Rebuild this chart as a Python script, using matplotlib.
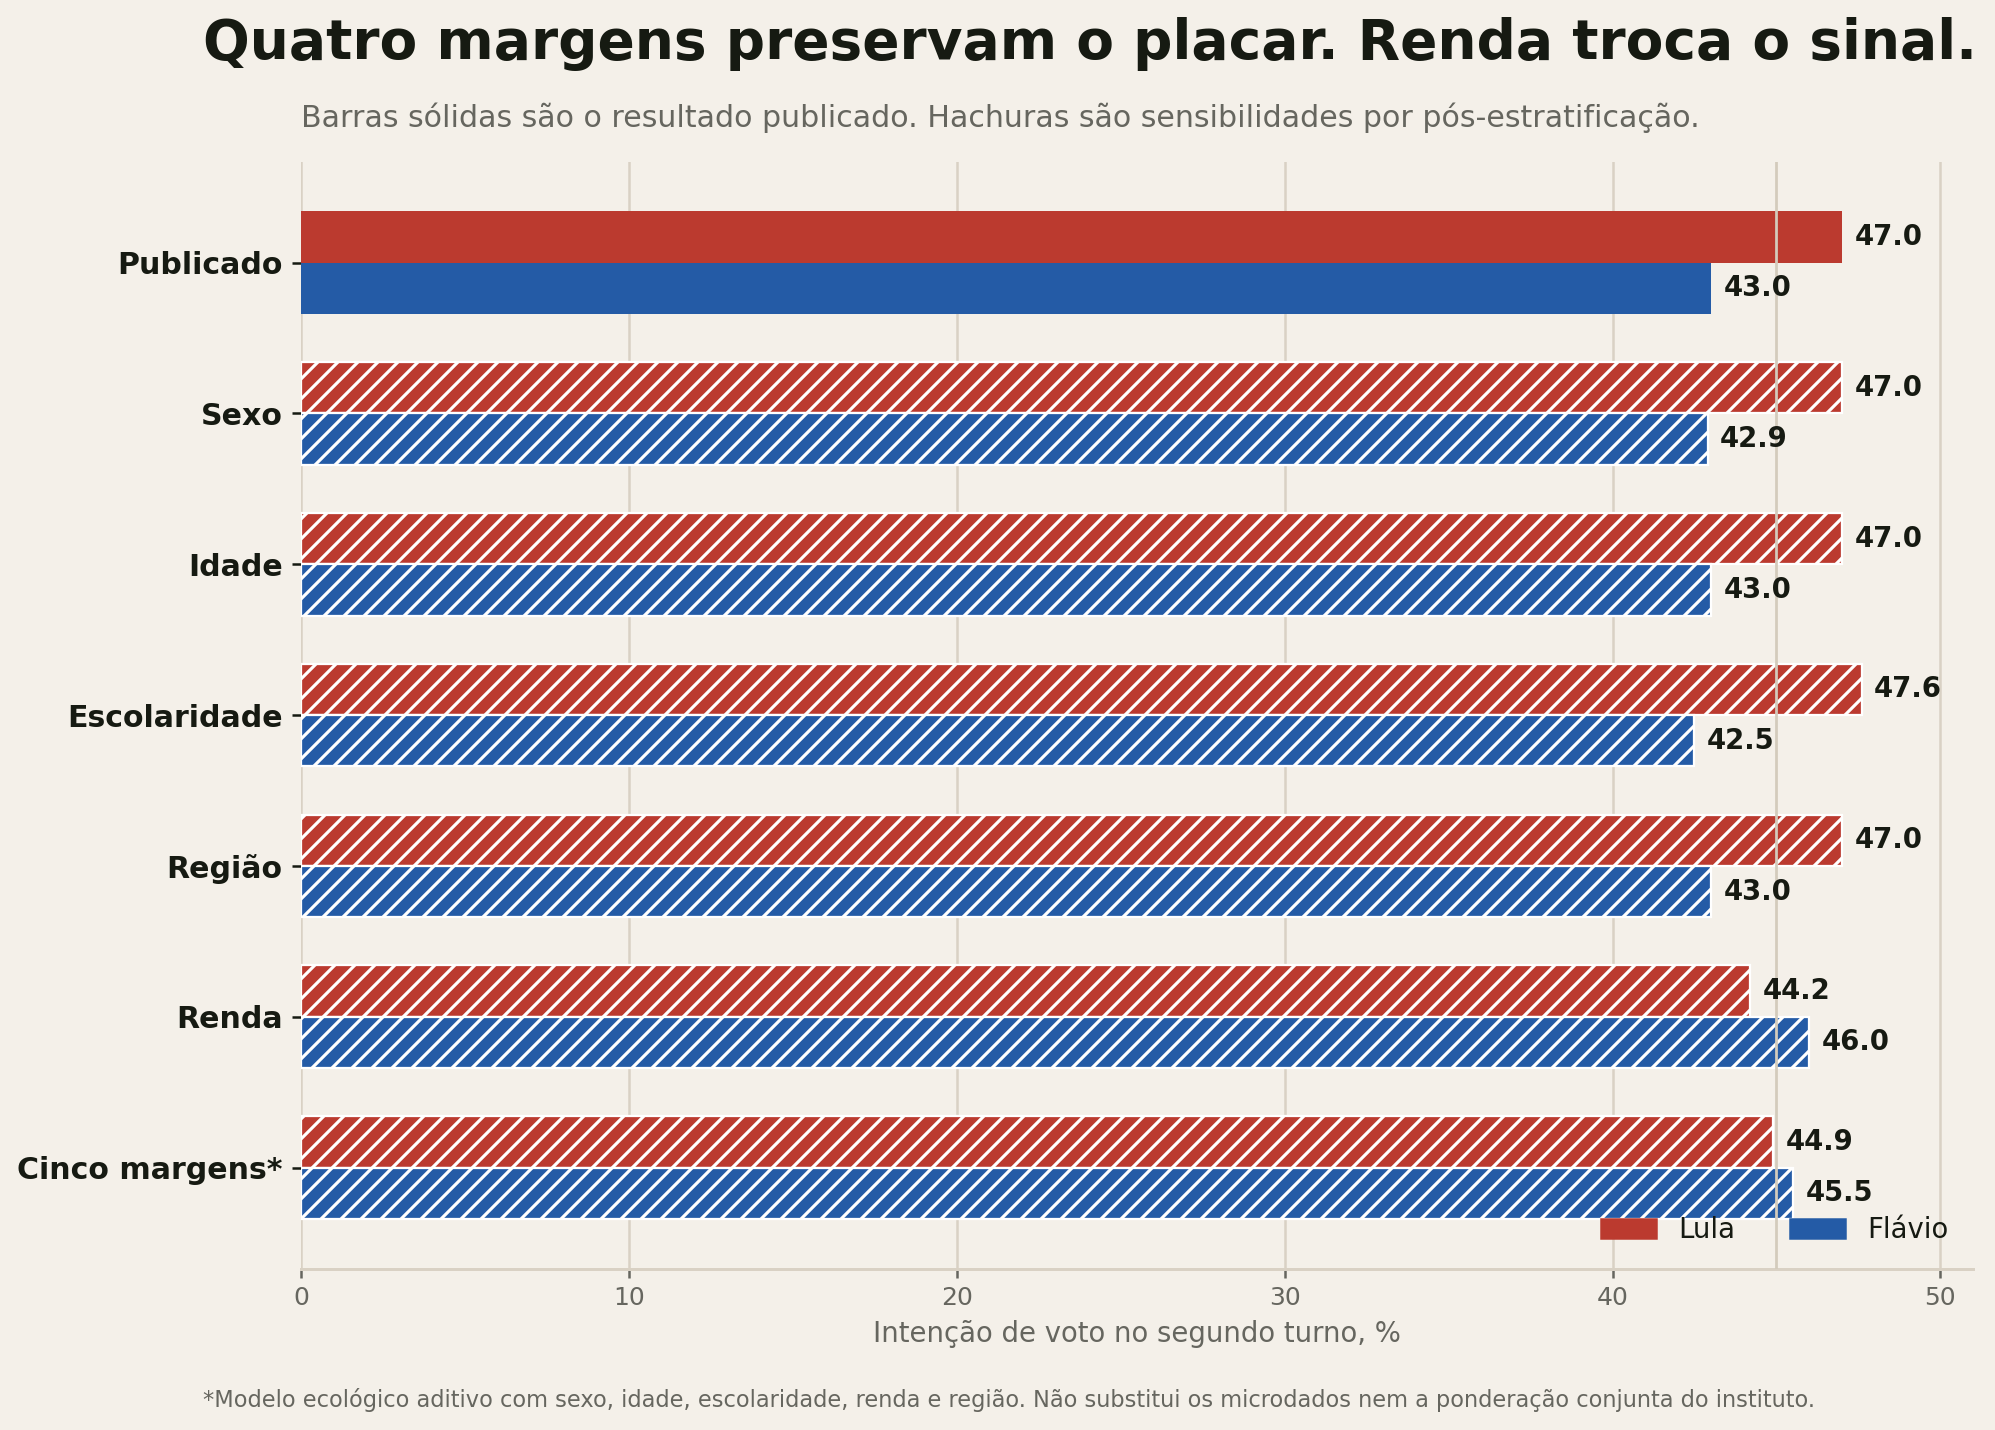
import matplotlib
matplotlib.use("Agg")
import matplotlib.pyplot as plt
import numpy as np
from matplotlib.patches import Patch

categories = ["Publicado", "Sexo", "Idade", "Escolaridade", "Região", "Renda", "Cinco margens*"]
lula = [47.0, 47.0, 47.0, 47.6, 47.0, 44.2, 44.9]
flavio = [43.0, 42.9, 43.0, 42.5, 43.0, 46.0, 45.5]
hatched = [False, True, True, True, True, True, True]
xticks = [0, 10, 20, 30, 40, 50]
ref_line = 45

BG = "#f4f0e9"
RED = "#bb3a2f"
BLUE = "#245ba6"
GRID = "#d9d1c4"
DARK = "#161a12"
GRAY = "#66665f"

plt.rcParams["font.family"] = ["DejaVu Sans"]
plt.rcParams["hatch.linewidth"] = 1.25

DPI = 180
fig = plt.figure(figsize=(1995 / DPI, 1430 / DPI), dpi=DPI, facecolor=BG)
ax = fig.add_axes([0.1511, 0.1129, 0.989 - 0.1511, 0.887 - 0.1129])
ax.set_facecolor(BG)

y = np.arange(len(categories))
h = 0.34
for i, cat in enumerate(categories):
    kw_r = dict(color=RED)
    kw_b = dict(color=BLUE)
    if hatched[i]:
        kw_r.update(hatch="///", edgecolor="white", linewidth=0.9)
        kw_b.update(hatch="///", edgecolor="white", linewidth=0.9)
    else:
        kw_r.update(linewidth=0)
        kw_b.update(linewidth=0)
    br = ax.barh(y[i] - h / 2, lula[i], height=h, zorder=3, **kw_r)
    bb = ax.barh(y[i] + h / 2, flavio[i], height=h, zorder=3, **kw_b)
    for t in ax.bar_label(br, labels=[f"{lula[i]:.1f}"], padding=5, fontsize=11,
                          fontweight="bold", color=DARK):
        t.set_zorder(6)
    for t in ax.bar_label(bb, labels=[f"{flavio[i]:.1f}"], padding=5, fontsize=11,
                          fontweight="bold", color=DARK):
        t.set_zorder(6)

ax.axvline(ref_line, color="#d3cbbc", linewidth=1.1, zorder=4)

ax.set_xlim(0, 51)
ax.set_ylim(len(categories) - 1 + 0.67, -0.67)
ax.set_yticks(y)
ax.set_yticklabels(categories, fontsize=12, fontweight="bold", color=DARK)
ax.set_xticks(xticks)
ax.set_xticklabels([str(t) for t in xticks], fontsize=10, color=GRAY)
ax.tick_params(axis="y", length=3.5, width=1.0, color=DARK, pad=4)
ax.tick_params(axis="x", length=3.5, width=1.0, color=GRAY)

ax.grid(axis="x", color=GRID, linewidth=1.0, zorder=0)
ax.set_axisbelow(True)
for s in ["top", "right", "left"]:
    ax.spines[s].set_visible(False)
ax.spines["bottom"].set_color(GRID)
ax.spines["bottom"].set_linewidth(1.2)

ax.set_xlabel("Intenção de voto no segundo turno, %", fontsize=11, color=GRAY)

handles = [Patch(color=RED, label="Lula"), Patch(color=BLUE, label="Flávio")]
leg = ax.legend(handles=handles, loc="lower right", ncol=2, frameon=False,
                fontsize=11)
for t in leg.get_texts():
    t.set_color(DARK)

fig.text(0.5465, 0.9689, "Quatro margens preservam o placar. Renda troca o sinal.",
         ha="center", va="center", fontsize=22, fontweight="bold", color=DARK)
fig.text(0.5013, 0.918,
         "Barras sólidas são o resultado publicado. Hachuras são sensibilidades por pós-estratificação.",
         ha="center", va="center", fontsize=12, color=GRAY)
fig.text(0.506, 0.0213,
         "*Modelo ecológico aditivo com sexo, idade, escolaridade, renda e região. Não substitui os microdados nem a ponderação conjunta do instituto.",
         ha="center", va="center", fontsize=9, color=GRAY)

fig.savefig("out.png", dpi=DPI, facecolor=BG)
